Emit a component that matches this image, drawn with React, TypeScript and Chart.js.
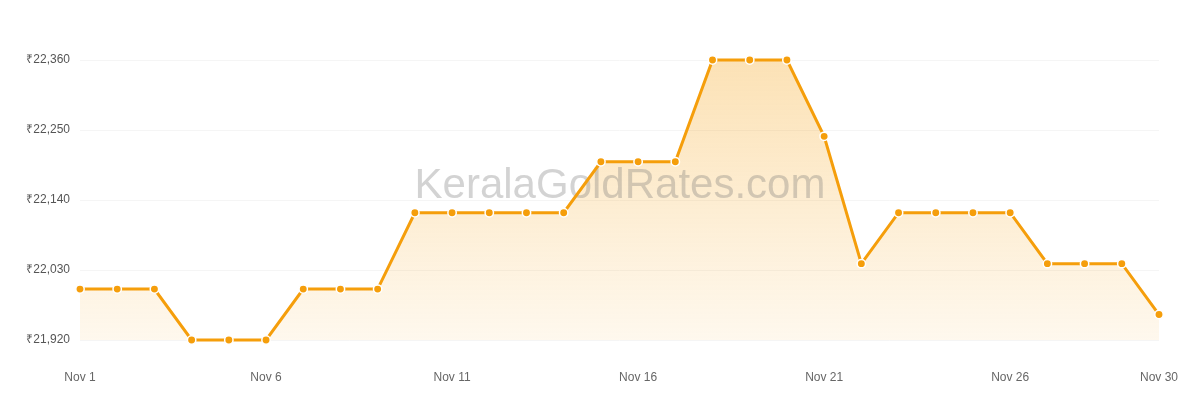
import { useEffect, useRef } from 'react';
import Chart, { ChartConfiguration, Plugin } from 'chart.js/auto';

const days = [
  'Nov 1', 'Nov 2', 'Nov 3', 'Nov 4', 'Nov 5', 'Nov 6', 'Nov 7', 'Nov 8', 'Nov 9', 'Nov 10',
  'Nov 11', 'Nov 12', 'Nov 13', 'Nov 14', 'Nov 15', 'Nov 16', 'Nov 17', 'Nov 18', 'Nov 19', 'Nov 20',
  'Nov 21', 'Nov 22', 'Nov 23', 'Nov 24', 'Nov 25', 'Nov 26', 'Nov 27', 'Nov 28', 'Nov 29', 'Nov 30',
];

const rates = [
  22000, 22000, 22000, 21920, 21920, 21920, 22000, 22000, 22000, 22120,
  22120, 22120, 22120, 22120, 22200, 22200, 22200, 22360, 22360, 22360,
  22240, 22040, 22120, 22120, 22120, 22120, 22040, 22040, 22040, 21960,
];

const yTicks = [21920, 22030, 22140, 22250, 22360];

const shownLabels = ['Nov 1', 'Nov 6', 'Nov 11', 'Nov 16', 'Nov 21', 'Nov 26', 'Nov 30'];

const watermarkText = 'KeralaGoldRates.com';

const GoldRateChart = () => {
  const chartRef = useRef<HTMLCanvasElement | null>(null);
  const chartInstance = useRef<Chart | null>(null);

  useEffect(() => {
    document.body.style.margin = '0';

    if (chartInstance.current) {
      chartInstance.current.destroy();
    }

    // watermark sits above the area fill but under the line
    const watermark: Plugin<'line'> = {
      id: 'watermark',
      beforeDatasetDraw(chart) {
        const { ctx } = chart;
        ctx.save();
        ctx.font = '42px "Liberation Sans", Arial, sans-serif';
        ctx.fillStyle = 'rgba(110, 110, 110, 0.3)';
        ctx.textAlign = 'center';
        ctx.textBaseline = 'middle';
        ctx.fillText(watermarkText, 620, 186);
        ctx.restore();
      },
    };

    if (chartRef.current) {
      const ctx = chartRef.current.getContext('2d');

      if (ctx) {
        const gradient = ctx.createLinearGradient(0, 60, 0, 340);
        gradient.addColorStop(0, 'rgba(245, 158, 11, 0.30)');
        gradient.addColorStop(1, 'rgba(245, 158, 11, 0.07)');

        const config: ChartConfiguration<'line', number[], string> = {
          type: 'line',
          data: {
            labels: days,
            datasets: [
              {
                label: 'Rate',
                data: rates,
                borderColor: '#f59e0b',
                borderWidth: 3,
                backgroundColor: gradient,
                fill: 'start',
                tension: 0,
                pointRadius: 4.2,
                pointBackgroundColor: '#f59e0b',
                pointBorderColor: '#ffffff',
                pointBorderWidth: 1.5,
                clip: false,
              },
            ],
          },
          options: {
            responsive: false,
            maintainAspectRatio: false,
            animation: false,
            layout: {
              padding: { top: 60, left: 0, right: 41, bottom: 0 },
            },
            plugins: {
              legend: { display: false },
              tooltip: { enabled: false },
            },
            scales: {
              x: {
                afterFit: (scale) => {
                  scale.height = 60;
                  scale.paddingLeft = 0;
                  scale.paddingRight = 0;
                },
                grid: { display: false, drawTicks: false },
                border: { display: false },
                ticks: {
                  autoSkip: false,
                  maxRotation: 0,
                  padding: 30,
                  color: '#666666',
                  font: { family: '"Liberation Sans", Arial, sans-serif', size: 12 },
                  callback: function (_value, index) {
                    const label = days[index];
                    return shownLabels.includes(label) ? label : '';
                  },
                },
              },
              y: {
                min: yTicks[0],
                max: yTicks[yTicks.length - 1],
                afterFit: (scale) => {
                  scale.width = 80;
                },
                afterBuildTicks: (scale) => {
                  scale.ticks = yTicks.map((v) => ({ value: v }));
                },
                grid: { color: '#f5f5f5', lineWidth: 1, drawTicks: false },
                border: { display: false },
                ticks: {
                  padding: 10,
                  color: '#555555',
                  font: { family: '"Liberation Sans", Arial, sans-serif', size: 12 },
                  callback: (value) => '₹' + Number(value).toLocaleString('en-US'),
                },
              },
            },
          },
          plugins: [watermark],
        };

        chartInstance.current = new Chart(ctx, config);
      }
    }

    return () => {
      if (chartInstance.current) {
        chartInstance.current.destroy();
      }
    };
  }, []);

  return (
    <canvas
      ref={chartRef}
      width={1200}
      height={400}
      style={{ display: 'block' }}
    />
  );
};

export default function App() {
  return <GoldRateChart />;
}
